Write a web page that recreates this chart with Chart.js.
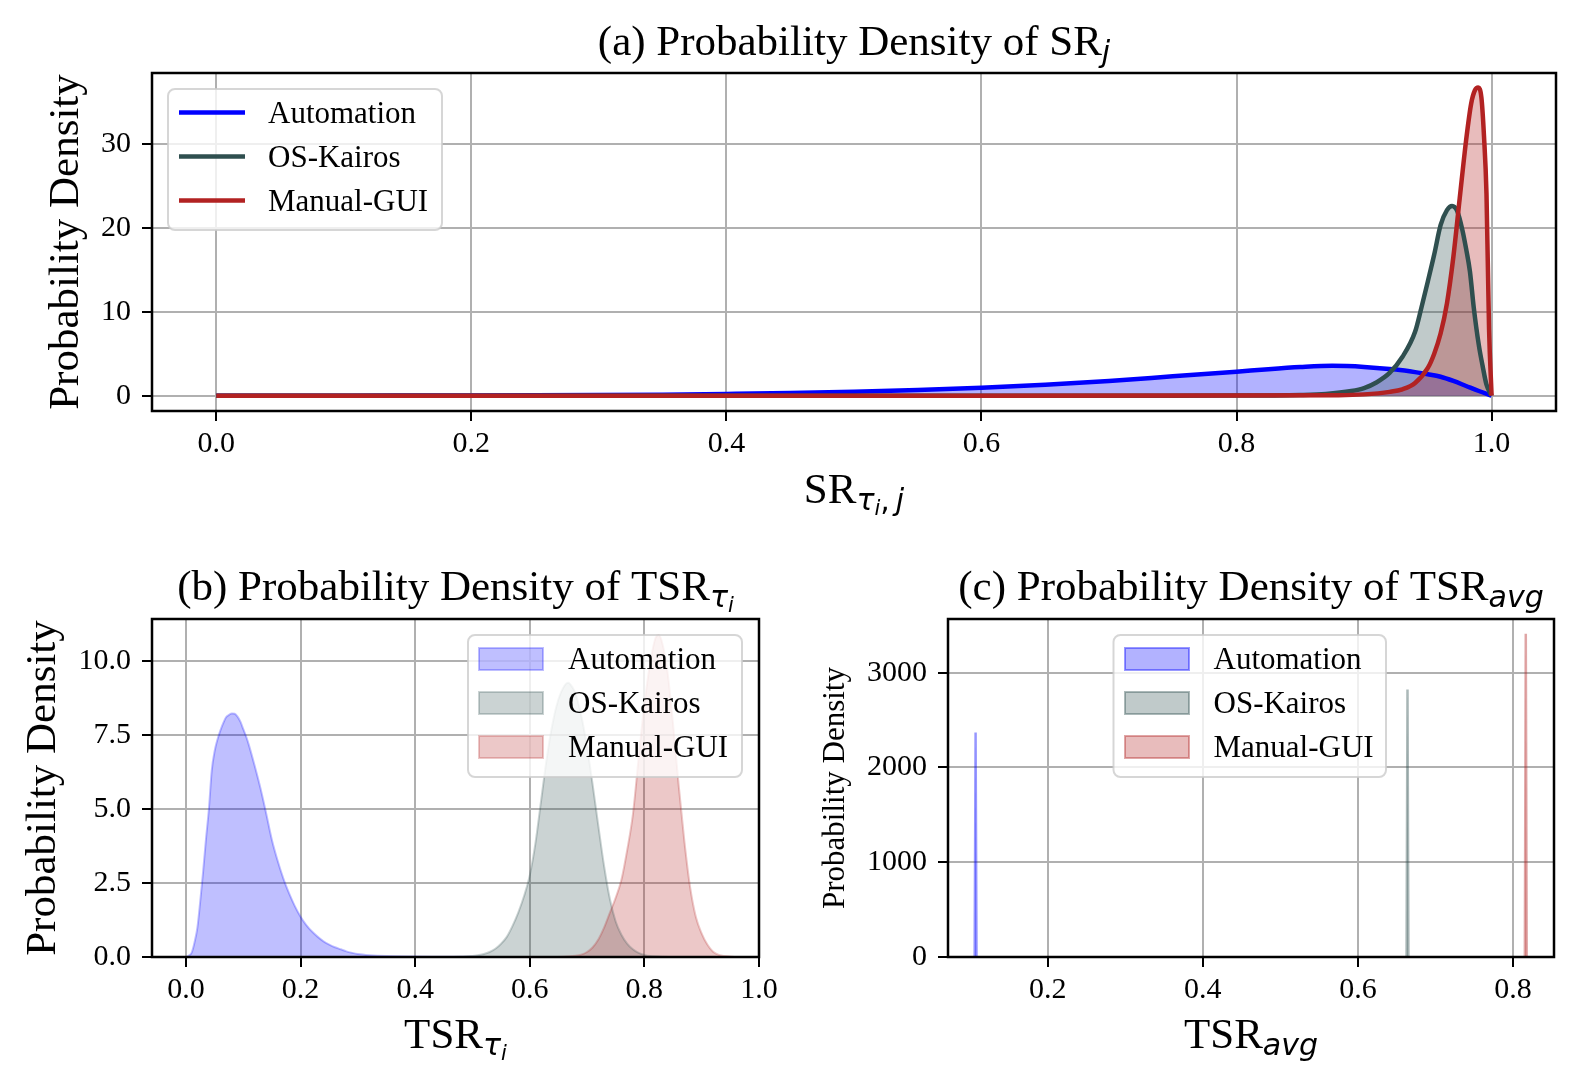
<!DOCTYPE html>
<html>
<head>
<meta charset="utf-8">
<title>Probability Density of SR and TSR</title>
<script src="https://cdn.jsdelivr.net/npm/chart.js@4.4.0/dist/chart.umd.min.js"></script>
<style>
  body { margin: 0; background: #fff; }
  #page { position: relative; width: 1578px; height: 1090px; background: #fff; }
  canvas { position: absolute; }
</style>
</head>
<body>
<div id="page">
  <canvas id="chartA" width="1578" height="530" style="left:0;top:0"></canvas>
  <canvas id="chartB" width="789" height="560" style="left:0;top:530px"></canvas>
  <canvas id="chartC" width="789" height="560" style="left:789px;top:530px"></canvas>
</div>
<script>
const seriesNames = ['Automation', 'OS-Kairos', 'Manual-GUI'];
const seriesRGB = ['0, 0, 255', '47, 79, 79', '178, 34, 34'];

// (a) density of SR_j
const aAutoX = [0, 0.05, 0.1, 0.15, 0.2, 0.25, 0.3, 0.35, 0.4, 0.45, 0.5, 0.55, 0.6, 0.65, 0.7, 0.75, 0.8, 0.825, 0.85, 0.875, 0.9, 0.925, 0.94, 0.95, 0.96, 0.97, 0.98, 0.99, 1.0];
const aAutoY = [0, 0, 0, 0.01, 0.02, 0.04, 0.07, 0.12, 0.2, 0.3, 0.46, 0.68, 0.95, 1.3, 1.75, 2.3, 2.85, 3.15, 3.4, 3.55, 3.42, 3.1, 2.8, 2.55, 2.25, 1.75, 1.15, 0.55, 0];
const aOsX = [0, 0.5, 0.7, 0.8, 0.85, 0.87, 0.89, 0.9, 0.91, 0.92, 0.93, 0.94, 0.945, 0.95, 0.955, 0.96, 0.965, 0.969, 0.973, 0.977, 0.98, 0.983, 0.986, 0.99, 0.993, 0.996, 1.0];
const aOsY = [0, 0, 0, 0.01, 0.08, 0.2, 0.55, 0.9, 1.6, 2.7, 4.6, 7.6, 10.5, 13.6, 16.8, 20.3, 22.1, 22.6, 22.0, 19.8, 17.5, 14.8, 10.5, 6.0, 3.5, 1.3, 0];
const aManX = [0, 0.5, 0.8, 0.88, 0.9, 0.92, 0.93, 0.94, 0.95, 0.955, 0.96, 0.965, 0.97, 0.975, 0.98, 0.984, 0.987, 0.9895, 0.992, 0.994, 0.996, 0.998, 1.0];
const aManY = [0, 0, 0.01, 0.05, 0.15, 0.45, 0.75, 1.5, 3.3, 5.0, 7.4, 11.0, 16.5, 23.5, 30.4, 34.8, 36.4, 36.7, 35.5, 31, 24, 8, 0];
const aXTicks = [0, 0.2, 0.4, 0.6, 0.8, 1.0];
const aYTicks = [0, 10, 20, 30];

// (b) density of TSR_tau_i
const bAutoX = [0, 0.005, 0.01, 0.015, 0.02, 0.025, 0.03, 0.035, 0.04, 0.045, 0.05, 0.055, 0.06, 0.065, 0.07, 0.075, 0.08, 0.085, 0.09, 0.095, 0.1, 0.105, 0.11, 0.12, 0.13, 0.14, 0.15, 0.16, 0.17, 0.18, 0.19, 0.2, 0.21, 0.22, 0.23, 0.24, 0.25, 0.26, 0.27, 0.28, 0.29, 0.3, 0.32, 0.35, 0.4, 0.45, 0.5, 0.55];
const bAutoY = [0, 0.05, 0.15, 0.5, 1.0, 1.9, 2.9, 4.0, 5.0, 6.3, 6.95, 7.35, 7.65, 7.9, 8.1, 8.18, 8.23, 8.22, 8.12, 7.95, 7.7, 7.45, 7.15, 6.45, 5.7, 4.85, 3.95, 3.25, 2.65, 2.15, 1.72, 1.36, 1.08, 0.86, 0.68, 0.53, 0.42, 0.33, 0.26, 0.19, 0.14, 0.1, 0.06, 0.03, 0.015, 0.01, 0.005, 0];
const bOsX = [0.45, 0.48, 0.5, 0.51, 0.52, 0.53, 0.54, 0.55, 0.56, 0.57, 0.58, 0.59, 0.6, 0.61, 0.62, 0.63, 0.64, 0.65, 0.66, 0.667, 0.675, 0.68, 0.69, 0.7, 0.71, 0.72, 0.73, 0.74, 0.75, 0.76, 0.77, 0.78, 0.79, 0.8, 0.81, 0.83, 0.85];
const bOsY = [0, 0.01, 0.03, 0.06, 0.1, 0.17, 0.28, 0.45, 0.68, 1.05, 1.5, 2.05, 2.75, 3.85, 5.3, 6.75, 7.9, 8.7, 9.15, 9.27, 9.1, 8.9, 8.15, 7.1, 5.8, 4.4, 3.05, 1.95, 1.2, 0.75, 0.45, 0.26, 0.14, 0.07, 0.03, 0.01, 0];
const bManX = [0.62, 0.66, 0.68, 0.69, 0.7, 0.71, 0.72, 0.73, 0.74, 0.75, 0.76, 0.77, 0.78, 0.79, 0.8, 0.81, 0.82, 0.825, 0.83, 0.84, 0.85, 0.86, 0.87, 0.88, 0.89, 0.9, 0.91, 0.92, 0.93, 0.94, 0.96];
const bManY = [0, 0.01, 0.04, 0.08, 0.17, 0.33, 0.6, 1.0, 1.5, 2.0, 2.6, 3.6, 4.8, 6.7, 8.5, 9.9, 10.8, 10.88, 10.7, 9.7, 7.9, 5.8, 3.9, 2.35, 1.35, 0.8, 0.42, 0.18, 0.07, 0.03, 0];
const bXTicks = [0, 0.2, 0.4, 0.6, 0.8, 1.0];
const bYTicks = [0, 2.5, 5, 7.5, 10];

// (c) density of TSR_avg (very narrow peaks)
const cAutoX = [0.1056, 0.1068, 0.108];
const cAutoY = [0, 2368, 0];
const cOsX = [0.6628, 0.664, 0.6652];
const cOsY = [0, 2823, 0];
const cManX = [0.8154, 0.8166, 0.8178];
const cManY = [0, 3411, 0];
const cXTicks = [0.2, 0.4, 0.6, 0.8];
const cYTicks = [0, 1000, 2000, 3000];

Chart.defaults.font.family = '"Liberation Serif", "Times New Roman", serif';
Chart.defaults.color = '#000';

const serif = size => size + 'px "Liberation Serif"';
const mathIt = size => 'italic ' + size + 'px "DejaVu Sans"';
const sub = text => ({ text: text, font: mathIt(30), dy: 7 });
const subsub = text => ({ text: text, font: mathIt(21), dy: 12 });

function pts(xs, ys) {
  return xs.map((x, i) => ({ x: x, y: ys[i] }));
}

// text with subscript pieces, centred on x, baseline at y
function drawRich(ctx, parts, x, y, rotate) {
  ctx.save();
  let total = 0;
  parts.forEach(p => {
    ctx.font = p.font;
    p.w = ctx.measureText(p.text).width + (p.gap || 0);
    total += p.w;
  });
  ctx.translate(x, y);
  if (rotate) ctx.rotate(-Math.PI / 2);
  ctx.textAlign = 'left';
  ctx.textBaseline = 'alphabetic';
  ctx.fillStyle = '#000';
  let cx = -total / 2;
  parts.forEach(p => {
    ctx.font = p.font;
    ctx.fillText(p.text, cx, p.dy || 0);
    cx += p.w;
  });
  ctx.restore();
}

function drawLegend(chart, lg) {
  const ctx = chart.ctx;
  ctx.save();
  ctx.beginPath();
  if (ctx.roundRect) ctx.roundRect(lg.x, lg.y, lg.w, lg.h, 7);
  else ctx.rect(lg.x, lg.y, lg.w, lg.h);
  ctx.fillStyle = 'rgba(255, 255, 255, 0.8)';
  ctx.fill();
  ctx.lineWidth = 2;
  ctx.strokeStyle = 'rgba(204, 204, 204, 0.8)';
  ctx.stroke();
  chart.data.datasets.forEach((ds, i) => {
    const cy = lg.rows[i];
    if (lg.kind === 'line') {
      ctx.beginPath();
      ctx.moveTo(lg.h0, cy);
      ctx.lineTo(lg.h1, cy);
      ctx.strokeStyle = ds.borderColor;
      ctx.lineWidth = ds.borderWidth;
      ctx.stroke();
    } else {
      ctx.fillStyle = ds.backgroundColor;
      ctx.fillRect(lg.h0, cy - 11, lg.h1 - lg.h0, 22);
      ctx.strokeStyle = ds.borderColor;
      ctx.lineWidth = 2;
      ctx.strokeRect(lg.h0, cy - 11, lg.h1 - lg.h0, 22);
    }
    ctx.font = serif(31);
    ctx.fillStyle = '#000';
    ctx.textAlign = 'left';
    ctx.textBaseline = 'middle';
    ctx.fillText(ds.label, lg.tx, cy + 2);
  });
  ctx.restore();
}

const decorations = {
  id: 'decorations',
  afterDatasetsDraw(chart, args, opts) {
    const ctx = chart.ctx;
    const a = chart.chartArea;
    ctx.save();
    ctx.strokeStyle = '#000';
    ctx.lineWidth = 2.5;
    ctx.strokeRect(a.left, a.top, a.right - a.left, a.bottom - a.top);
    ctx.restore();
    drawLegend(chart, opts.legend);
    opts.texts.forEach(t => drawRich(ctx, t.parts, t.x, t.y, t.rotate));
  }
};

function axisX(min, max, ticks) {
  return {
    type: 'linear',
    min: min,
    max: max,
    afterBuildTicks: ax => { ax.ticks = ticks.map(v => ({ value: v })); },
    afterFit: s => { s.height = 50; },
    ticks: { autoSkip: false, maxRotation: 0, padding: 5, font: { size: 30 }, color: '#000', callback: v => v.toFixed(1) },
    grid: { color: '#b0b0b0', lineWidth: 2, tickColor: '#000', tickWidth: 2, tickLength: 10 },
    border: { display: false }
  };
}

function axisY(min, max, ticks, width, fmt) {
  return {
    type: 'linear',
    min: min,
    max: max,
    afterBuildTicks: ax => { ax.ticks = ticks.map(v => ({ value: v })); },
    afterFit: s => { s.width = width; },
    ticks: { autoSkip: false, padding: 11, font: { size: 30 }, color: '#000', callback: fmt },
    grid: { color: '#b0b0b0', lineWidth: 2, tickColor: '#000', tickWidth: 2, tickLength: 10 },
    border: { display: false }
  };
}

function series(i, data, width, lineAlpha, fillAlpha, smooth) {
  return {
    label: seriesNames[i],
    data: data,
    borderColor: 'rgba(' + seriesRGB[i] + ', ' + lineAlpha + ')',
    backgroundColor: 'rgba(' + seriesRGB[i] + ', ' + fillAlpha + ')',
    borderWidth: width,
    fill: 'origin',
    pointRadius: 0,
    cubicInterpolationMode: smooth ? 'monotone' : 'default',
    tension: 0,
    order: 3 - i
  };
}

function makeChart(id, cfg) {
  return new Chart(document.getElementById(id), {
    type: 'line',
    data: { datasets: cfg.datasets },
    options: {
      responsive: false,
      animation: false,
      events: [],
      layout: { padding: cfg.padding },
      scales: { x: cfg.x, y: cfg.y },
      plugins: {
        legend: { display: false },
        tooltip: { enabled: false },
        filler: { drawTime: 'beforeDatasetsDraw' },
        decorations: { legend: cfg.legend, texts: cfg.texts }
      }
    },
    plugins: [decorations]
  });
}

makeChart('chartA', {
  datasets: [
    series(0, pts(aAutoX, aAutoY), 4.5, 1, 0.3, true),
    series(1, pts(aOsX, aOsY), 4.5, 1, 0.3, true),
    series(2, pts(aManX, aManY), 4.5, 1, 0.3, true)
  ],
  padding: { top: 73, right: 22, bottom: 69, left: 0 },
  x: axisX(-0.0504, 1.0505, aXTicks),
  y: axisY(-1.83, 38.43, aYTicks, 152, v => String(v)),
  legend: { kind: 'line', x: 168, y: 89, w: 274, h: 141, rows: [112.5, 156.5, 200.5], h0: 179, h1: 245, tx: 268 },
  texts: [
    { parts: [{ text: '(a) Probability Density of SR', font: serif(43) }, sub('j')], x: 854, y: 55 },
    { parts: [{ text: 'SR', font: serif(43) }, sub('τ'), subsub('i'), { text: ',', font: '30px "DejaVu Sans"', dy: 7, gap: 6 }, sub('j')], x: 854, y: 503 },
    { parts: [{ text: 'Probability Density', font: serif(43) }], x: 78, y: 242, rotate: true }
  ]
});

makeChart('chartB', {
  datasets: [
    series(0, pts(bAutoX, bAutoY), 2, 0.25, 0.25, true),
    series(1, pts(bOsX, bOsY), 2, 0.25, 0.25, true),
    series(2, pts(bManX, bManY), 2, 0.25, 0.25, true)
  ],
  padding: { top: 89, right: 30, bottom: 83, left: 0 },
  x: axisX(-0.0593, 1.0002, bXTicks),
  y: axisY(0, 11.42, bYTicks, 152, v => v.toFixed(1)),
  legend: { kind: 'patch', x: 468, y: 105, w: 274, h: 142, rows: [129, 173, 217], h0: 479, h1: 543, tx: 568 },
  texts: [
    { parts: [{ text: '(b) Probability Density of TSR', font: serif(43) }, sub('τ'), subsub('i')], x: 455.5, y: 70 },
    { parts: [{ text: 'TSR', font: serif(43) }, sub('τ'), subsub('i')], x: 455.5, y: 518 },
    { parts: [{ text: 'Probability Density', font: serif(43) }], x: 55, y: 258, rotate: true }
  ]
});

makeChart('chartC', {
  datasets: [
    series(0, pts(cAutoX, cAutoY), 2.5, 0.4, 0.3, false),
    series(1, pts(cOsX, cOsY), 2.5, 0.4, 0.3, false),
    series(2, pts(cManX, cManY), 2.5, 0.4, 0.3, false)
  ],
  padding: { top: 89, right: 24, bottom: 83, left: 0 },
  x: axisX(0.0712, 0.853, cXTicks),
  y: axisY(0, 3566, cYTicks, 159, v => String(v)),
  legend: { kind: 'patch', x: 324.5, y: 105, w: 272.5, h: 142, rows: [129, 173, 217], h0: 336, h1: 400, tx: 424.5 },
  texts: [
    { parts: [{ text: '(c) Probability Density of TSR', font: serif(43) }, sub('avg')], x: 462, y: 70 },
    { parts: [{ text: 'TSR', font: serif(43) }, sub('avg')], x: 462, y: 518 },
    { parts: [{ text: 'Probability Density', font: serif(31) }], x: 55, y: 258, rotate: true }
  ]
});
</script>
</body>
</html>
